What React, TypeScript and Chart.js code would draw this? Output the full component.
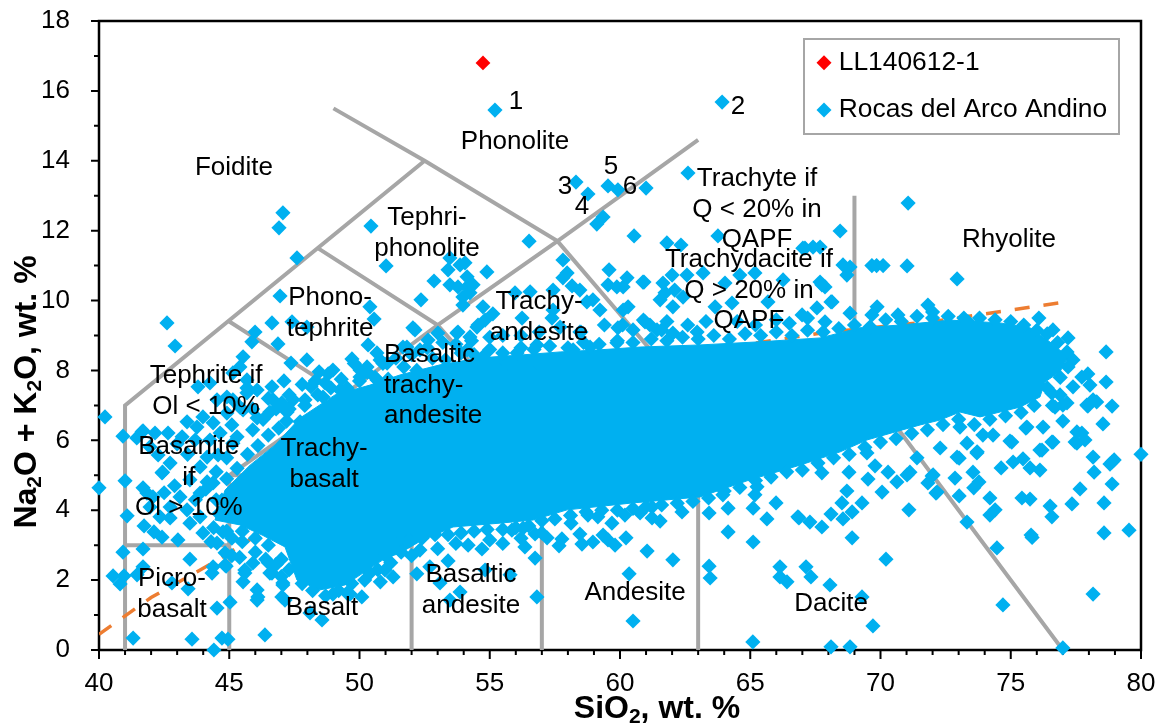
import React, { useEffect, useRef } from "react";
import { Chart, registerables } from "chart.js";

Chart.register(...registerables);

type P = [number, number];

// ---------- data (SiO2 wt.%, Na2O+K2O wt.%) ----------
const sample: P[] = [[54.74, 16.8]];

const rocasHigh: P[] = [
  [55.2,15.45],[63.92,15.68],[58.31,13.39],[58.77,13.05],[59.54,13.28],[59.92,13.17],[61,13.22],[59.35,12.39],[59.11,12.19],
  [60.54,11.85],[56.51,11.7],[61.8,11.65],[57.81,11.16],[57.97,10.79],[57.81,10.65],[59.58,10.88],[60.88,10.53],[54.89,10.82],
  [59.54,10.45],[59.88,10.39],[60.27,10.65],[60.12,10.39],[58.16,10.42],[58.46,10.3],[52.86,10.56],[51.02,10.99],[52.36,10.02],
  [53.47,11.22],[53.4,10.88],[54.05,11.08],[53.86,11.02],[54.13,10.68],[53.47,10.45],[54.13,10.39],[54.36,10.45],[53.97,10.1],
  [53.97,9.87],[54.24,10.22],[53.78,10.39],[54.74,9.82],[55.12,9.62],[56.55,10.25],[55.97,10.22],[57.43,10.3],[58.96,10.02],
  [59.23,9.73],[58.73,9.96],[60.12,9.73],[60.31,9.82],[61.54,10.02],[61.73,10.22],[61.65,10.5],[56.24,9.5],[57.43,9.73],
  [57.39,9.5],[57.7,9.24],[58.46,9.1],[56.81,8.73],[56.05,8.5],[59.92,9.22],[60.5,9.16],[60.96,9.39],[61.42,9.16],[58.2,8.59],
  [58.85,8.67],[59.88,8.79],[52.13,9.16],[53.01,9.07],[52.63,8.87],[53.78,9.1],[54.51,9.24],[54.24,8.96],[54.82,9.44],[51.67,8.67],
  [52.32,8.59],[54.13,8.59],[54.74,8.39],[50.67,8.5],[55.66,8.21],[57.2,8.07],[56.55,8.01],[52.05,9.22],[51.82,8.67],[53.74,9.07],
  [54.55,9.3],
];

const rocasTrachytic: P[] = [
  [62.61,13.65],[68.45,11.99],[62.34,11.59],[63.76,11.85],[67.41,11.53],[67.1,11.5],[67.68,11.53],[64.6,10.73],[65.18,10.79],
  [63.19,10.79],[62.57,10.73],[62,10.73],[60.92,10.53],[66.26,10.59],[67.68,10.53],[67.87,10.39],[68.56,11.02],[68.83,10.96],
  [68.71,10.73],[69.67,11],[69.85,11],[70.1,11],[71.02,10.99],[71.06,12.79],[72.94,10.62],[67.02,11.5],[67.75,10.45],[68.1,9.96],
  [67.56,9.79],[66.99,9.59],[69.87,9.82],[69.67,9.59],[71.82,9.87],[72,9.67],[76.08,9.5],[73.36,9.39],[70.67,9.59],[62.03,9.82],
  [63.65,9.82],[64.3,9.93],[65.68,9.96],[68.14,9.96],[62.96,9.1],[62.03,9.07],[61.6,9.16],[61.15,9.3],[60.9,9.44],[62.1,10.3],
  [62.42,10.1],[68.83,9.64],[67.87,9.39],[64.03,10.5],[77.39,8.3],[77.16,8.53],[77.2,8.93],[76.62,9.16],
];

const rocasMaficUpper: P[] = [
  [47.06,12.51],[46.91,12.08],[47.6,11.22],[50.44,12.13],[46.95,10.13],[42.61,9.36],[42.92,8.7],[50.4,9.82],[50.56,9.47],[46.64,9.36],
  [47.41,9.39],[47.98,9.24],[45.99,9.1],[45.87,8.82],[46.87,8.76],[45.53,8.39],[47.37,8.21],[47.98,8.3],[48.45,7.96],[48.98,8.01],
  [49.71,8.33],[50.33,8.73],[50.02,8.01],[51.06,8.21],[45.41,8.1],[45.14,7.93],[45.68,7.73],[46.64,7.53],[43.8,7.53],[44.26,7.64],
  [45.68,7.5],[46.68,7.16],[47.45,7.16],[48.14,7.53],[48.68,7.64],[49.52,7.5],[44.53,7.16],[44.91,7.24],[45.41,6.95],[43.99,6.67],
  [43.38,6.53],[43.76,6.38],[44.38,6.5],[47.02,7.07],[47.22,6.81],[47.72,6.53],[46.07,6.64],[45.68,7.36],[46.07,7.44],[45.14,7.16],
  [44.91,6.78],[45.53,6.87],[46.56,6.81],[45.1,6.44],[44.26,6.01],[44.65,6.21],[45.14,5.92],[44.15,5.52],[44.57,5.58],[50.79,8.3],
  [50.29,8.1],[50.02,7.81],[49.25,7.44],[48.6,7.24],[47.91,7.16],[50.67,7.73],
];

const rocasMaficLower: P[] = [
  [40.23,6.67],[40.92,6.12],[41.65,6.24],[42.15,6.21],[42.65,6.21],[43.19,6.1],[41.45,6.07],[43.69,6.01],[42.27,5.58],[42.73,5.35],
  [42.42,5.07],[41.96,5.81],[41,4.84],[40,4.64],[41.08,3.84],[41.69,6.27],[41.69,4.64],[41.84,4.49],[42.44,5.09],[41.73,3.55],
  [42.11,3.38],[42.42,3.23],[43.03,3.15],[41.69,2.89],[40.92,2.8],[43.49,2.6],[41.69,2.38],[40.54,2.12],[40.81,1.89],[40.96,2.12],
  [41.46,2.15],[42.8,1.92],[43.42,1.75],[44.53,1.2],[45.03,1.37],[41.31,0.34],[43.57,0.31],[44.72,0.34],[44.95,0.31],[44.41,0],
  [46.37,0.43],[44.34,2.2],[44.38,2.38],[44.88,2.4],[44.84,2.78],[43.99,3.35],[44.53,3.06],[44.76,3.38],[42.73,3.78],[43.49,3.63],
  [43.11,4.38],[43.88,3.81],[43.88,5.24],[43.49,4.87],[44.15,4.81],[42.07,4.38],[42.73,4.09],[43.38,4.01],[41.96,4.09],[43.88,4.49],
  [44.38,4.78],[44.72,4.29],[42.34,3.81],[45.53,1.95],[46.1,1.52],[45.91,2.49],[46.64,2.2],[45.6,2.29],[46.07,1.72],[47.06,1.86],
  [47.14,1.43],[48.98,1.6],[48.56,0.86],[50.09,1.52],[49.52,1.63],[48.1,1.06],[51.29,2.09],[50.98,2.29],[50.4,2.2],[46.56,2.2],
  [47.06,1.92],[46.07,1.43],[45.6,2.2],[49.64,1.6],[47.02,1.52],[44.84,2.43],
];

const rocasIntermediateLower: P[] = [
  [52.2,2.18],[53.4,2.55],[54.17,3],[54.7,2.89],[53.86,1.66],[53.47,1.43],[54.82,2.29],[55.78,2.15],[53.09,1.92],[52.7,2.38],[52.32,2.86],
  [56.35,2.95],[56.74,2.63],[56.81,1.52],[56.74,3.32],[57.2,3.21],[57,3.35],[57.66,2.98],[57.77,3.18],[58.54,3.03],[58.46,3.32],
  [58.96,3.09],[59.35,3.29],[59.54,3.15],[59.81,3],[60.23,3.21],[61.04,2.83],[62.03,2.58],[60.35,2.18],[60.5,0.83],[58.12,3.63],
  [59.69,3.63],[58.77,3.86],[59.15,3.81],[60.77,3.92],[61.23,4.09],[61.23,3.78],[61.54,3.69],[60.19,3.86],[62.38,3.95],[56.28,3.49],
  [55.85,3.43],[63.42,3.92],[64.15,4.06],[64.15,3.38],[63.42,2.4],[63.46,2.06],[65.11,3.09],[65.11,4.06],[65.64,3.75],[65.99,4.21],
  [65.18,4.44],[65.26,4.67],[65.1,0.23],[66.14,2.38],[66.14,2.09],[66.41,1.95],[63.95,4.44],[66.83,3.81],
];

const rocasFelsicLower: P[] = [
  [66.87,3.78],[67.29,3.66],[67.75,3.52],[68.1,3.89],[68.52,4.21],[68.56,3.75],[68.91,3.95],[69.29,4.21],[68.91,3.21],[70.21,2.6],
  [71.09,4.01],[69.71,0.69],[69.29,1.52],[68.06,1.86],[67.14,2.38],[67.33,2.09],[68.1,0.09],[68.83,0.09],[77,0.06],[74.7,1.29],
  [78.16,1.6],[73.32,3.66],[74.47,2.92],[80,5.6],[79.54,3.43],[78.58,3.35],[75.78,3.29],[75.82,3.22],[68.71,4.55],[67.75,5.07],
  [68.79,5.09],[69.79,5.27],[69.52,4.89],[70.06,4.52],[70.29,5.09],[70.63,4.81],[71.02,5.01],[71.13,5.09],[71.82,4.78],[72.02,5.01],
  [72.13,4.49],[71.4,5.5],[72.86,4.92],[73.02,4.41],[73.55,5.09],[73.78,4.81],[73.58,4.64],[74.2,4.35],[74.4,4.01],[74.2,3.86],
  [74.63,5.21],[75.09,5.38],[75.47,5.47],[75.74,5.21],[76.12,5.15],[75.43,4.35],[75.74,4.32],[76.51,4.12],[76.58,3.81],[77.35,4.18],
  [77.66,4.61],[78.2,5.09],[78.58,4.21],[78.89,4.75],[78.81,5.32],[78.97,5.44],[78.16,5.52],[77.47,5.95],[77.73,6.21],[77.85,6.01],
  [77,6.55],[78.54,6.47],[78.89,6.98],[77.92,7.01],[78.3,7.1],[77,7.01],[76.62,5.95],[76.12,5.72],[76.24,6.38],[75.62,6.38],[75.04,5.95],
  [74.32,6.15],[73.71,5.67],[72.94,5.52],[72.29,5.78],[73.05,6.38],[73.93,6.15],[73.32,5.92],[78.66,8.53],[78.66,7.67],[77.96,7.9],
  [77.73,7.81],[77.39,7.53],[78.04,7.58],[78.16,7.16],[77.96,6.98],[77.54,6.24],[77.54,5.92],[78.89,5.38],[72.17,4.52],[71.98,4.98],
  [69.48,5.64],[73.02,5.49],[73.7,5.64],[76.58,5.95],[76.2,5.72],[74.97,5.98],[75.58,6.35],[76.7,6.95],[76.89,7.3],[77.16,7.07],[76.58,7.35],
];

const rocasMassTop: P[] = [
  [47.3,6.9],[47.9,7],[48.4,7.3],[48.9,7.5],[49.5,7.45],[50,7.7],[50.6,7.8],[51.1,7.75],[51.7,8.1],[52.2,8],[52.8,8.35],[53.3,8.3],
  [53.9,8.5],[54.4,8.45],[55,8.6],[55.5,8.5],[56.2,8.65],[56.7,8.6],[57.3,8.7],[58,8.65],[58.6,8.8],[59.2,8.75],[59.9,8.85],[60.5,8.8],
  [61.2,8.9],[61.8,8.85],[62.4,8.95],[63,8.9],[63.6,9],[64.2,8.9],[64.8,9.05],[65.4,9],[66,9.1],[66.6,9],[67.2,9.15],[67.8,9.1],
  [68.4,9.2],[69,9.3],[69.6,9.25],[70.2,9.45],[70.8,9.4],[71.4,9.55],[72,9.5],[72.6,9.55],[73.2,9.5],[73.8,9.5],[74.4,9.45],[75,9.4],
  [75.5,9.3],[76,9.15],[76.4,9.05],[76.8,8.8],
];
const rocasMassBottom: P[] = [
  [45.5,3.4],[46,3.2],[46.5,3],[47,2.6],[47.3,2.3],[47.8,1.9],[48.2,1.7],[48.7,1.55],[49.2,1.7],[49.7,1.9],[50.2,2],[50.7,2.3],[51,2.7],
  [51.4,3],[51.9,3.15],[52.4,3.2],[52.9,3.3],[53.4,3.3],[53.9,3.35],[54.4,3.4],[54.9,3.45],[55.5,3.45],[56,3.5],[56.5,3.55],[57,3.7],
  [57.5,3.75],[58.1,3.85],[58.7,3.95],[59.3,4],[59.9,4],[60.5,4.05],[61,4.1],[61.6,4.15],[62.2,4.2],[62.8,4.25],[63.4,4.35],[64,4.55],
  [64.6,4.65],[65.2,4.85],[65.8,4.95],[66.4,5.1],[67,5.15],[67.6,5.35],[68.2,5.5],[68.8,5.6],[69.4,5.8],[70,5.95],[70.6,6.05],[71.2,6.2],
  [71.8,6.3],[72.4,6.45],[73,6.6],[73.6,6.45],[74.2,6.6],[74.8,6.7],[75.4,6.8],[75.9,7],[76.4,7.5],[76.9,7.8],[77.2,8.1],[76.6,7],
];
const rocasMassLeft: P[] = [
  [44.6,3.9],[44.5,4.3],[44.9,4.9],[45.3,5.2],[45.7,5.6],[46.1,5.85],[46.5,6.15],[46.9,6.35],[47.2,6.55],[44.4,3.5],[44.9,3.4],[45.1,3.2],
  [45.5,3.1],[46,2.8],[46.4,2.6],[46.8,2.45],
];
const rocasOuterFringe: P[] = [
  [45.3,6.1],[45.9,6.3],[46.3,6.6],[46.8,6.9],[47.3,7.3],[47.8,7.6],[48.3,7.7],[48.8,7.9],[49.3,7.75],[49.8,8.2],[50.3,7.95],[50.9,8.2],
  [51.4,8.35],[52,8.45],[52.6,8.65],[53.2,8.8],[53.7,8.75],[54.3,8.85],[55,8.95],[55.5,9],[56.2,9],[56.9,9.1],[47.1,7.7],[46.5,7.2],
  [45.9,6.9],[44.9,5.5],[44.5,5.1],[44.1,4.6],[43.7,4.3],[43.4,5.6],[43,5.9],[42.9,4.7],[42.5,4.5],[44.3,3.1],[45.1,2.7],[45.4,2.65],
  [51.6,2.8],[52,2.7],[51.2,2.5],[50.8,1.95],[47,2.1],[46.5,2.5],[58.5,9.1],[59.4,9.3],[60.1,9.3],[61.8,9.4],[62.6,9.3],[63.3,9.4],
  [64.5,9.4],[65.2,9.3],[66,9.45],[66.5,9.35],[67.2,9.5],[53,2.9],[53.7,3.05],[55,3.15],[55.5,3.05],[56.2,3.2],
];

// Outline of the part of the cloud where individual markers merge into one solid area.
const rocasSolidMass: P[] = [
  [44.45,3.72],[44.84,4.58],[45.8,5.29],[46.76,5.87],[47.72,6.64],[49.06,7.3],[50.4,7.58],[51.55,7.87],[53.09,8.16],[54.63,8.36],
  [56.16,8.44],[57.7,8.53],[59.23,8.59],[60.77,8.67],[63.07,8.73],[65.37,8.82],[67.68,8.93],[69.21,9.22],[70.75,9.3],[72.67,9.44],
  [74.59,9.36],[75.74,9.22],[76.31,8.93],[77.2,8.39],[76.89,7.96],[76.31,7.67],[76.12,7.24],[75.35,6.95],[74.59,6.81],[73.82,6.67],
  [73.05,6.81],[72.28,6.58],[71.52,6.44],[70.56,6.24],[69.48,6.01],[68.45,5.67],[66.91,5.29],[64.99,4.87],[63.07,4.38],[60.5,4.21],
  [57.97,4.01],[56.66,3.72],[55.39,3.63],[53.59,3.52],[52.3,3.1],[51.55,2.77],[51,2.63],[50.13,2.2],[49.44,1.86],[48.48,1.72],
  [47.6,2],[47.14,2.95],[46.26,3.29],[45.41,3.58],[44.45,3.72],
];

// TAS field boundaries
const fieldBoundaries: P[][] = [
  [[41,0],[41,7],[52.5,14]],
  [[41,3],[45,3]],
  [[45,0],[45,5],[49.4,7.3],[53,9.3],[57.6,11.7],[63,14.6]],
  [[45,9.4],[49.4,7.3],[52,5],[52,0]],
  [[48.4,11.5],[53,9.3],[57,5.9],[57,0]],
  [[49,15.5],[52.5,14],[57.6,11.7],[63,7],[63,0]],
  [[45,5],[52,5],[57,5.9],[63,7],[69,8],[77,0]],
  [[69,8],[69,13]],
];
const alkalineDivide: P[] = [
  [40,0.45],[42,1.5],[44.5,2.55],[48,4.2],[52,5.8],[56,6.9],[60,7.8],[64,8.65],[68,9.1],[72,9.4],[77.1,9.96],
];

const fieldNames: string[][] = [
  ["Foidite"],["Phonolite"],["Tephri-","phonolite"],["Phono-","tephrite"],["Tephrite if","Ol < 10%"],["Basanite","if","Ol > 10%"],
  ["Trachy-","basalt"],["Trachy-","andesite"],["Trachyte if","Q < 20% in","QAPF"],["Trachydacite if","Q > 20% in","QAPF"],["Rhyolite"],
  ["Picro-","basalt"],["Basalt"],["Basaltic","andesite"],["Andesite"],["Dacite"],["1"],["2"],["3"],["4"],["5"],["6"],
];
const fieldAnchors: P[] = [
  [45.18,13.8],[55.97,14.54],[52.59,12.36],[48.87,10.07],[44.11,7.84],[43.45,5.81],[48.64,5.75],[56.89,9.96],[65.26,13.48],[64.95,11.16],[74.93,11.73],
  [42.8,2.03],[48.56,1.2],[54.28,2.15],[60.58,1.63],[68.1,1.32],[56.01,15.68],[64.53,15.54],[57.89,13.25],[58.54,12.68],[59.65,13.82],[60.38,13.25],
];
const leftAlignedName = ["Basaltic", "trachy-", "andesite"];
const leftAlignedAnchor: P = [50.94, 8.44];

const xTitleParts = ["SiO", "2", ", wt. %"];
const yTitleParts = ["Na", "2", "O + K", "2", "O, wt. %"];

const BLUE = "#00B0F0";
const GREY = "#A6A6A6";
const FONT = '"Liberation Sans", Arial, sans-serif';

const toXY = (pts: P[]) => pts.map(([x, y]) => ({ x, y }));

function richTitle(ctx: CanvasRenderingContext2D, parts: string[], cx: number, cy: number, rot: number) {
  const big = `bold 32px ${FONT}`;
  const small = `bold 21px ${FONT}`;
  const isSub = (p: string) => p === "2";
  let total = 0;
  parts.forEach((p) => { ctx.font = isSub(p) ? small : big; total += ctx.measureText(p).width; });
  ctx.save();
  ctx.translate(cx, cy);
  ctx.rotate(rot);
  ctx.fillStyle = "#000";
  ctx.textAlign = "left";
  ctx.textBaseline = "alphabetic";
  let x = -total / 2;
  parts.forEach((p) => {
    ctx.font = isSub(p) ? small : big;
    ctx.fillText(p, x, isSub(p) ? 16 : 11);
    x += ctx.measureText(p).width;
  });
  ctx.restore();
}

const tasPlugin = {
  id: "tasDecor",
  beforeDraw(chart: any) {
    const { ctx } = chart;
    ctx.save();
    ctx.fillStyle = "#fff";
    ctx.strokeStyle = GREY;
    ctx.lineWidth = 2;
    ctx.fillRect(804, 39, 315, 95);
    ctx.strokeRect(804, 39, 315, 95);
    ctx.restore();
  },
  afterLayout(chart: any) {
    const l = chart.legend;
    if (l) { l.left = 801.5; l.top = 28.5; l.right = 1119; l.bottom = 300; }
  },
  beforeDatasetsDraw(chart: any) {
    const { ctx, chartArea: a, scales } = chart;
    ctx.save();
    ctx.strokeStyle = "#000";
    ctx.lineWidth = 2.5;
    ctx.strokeRect(a.left, a.top, a.right - a.left, a.bottom - a.top);
    ctx.lineWidth = 2;
    ctx.beginPath();
    scales.x.ticks.forEach((t: any) => {
      const px = scales.x.getPixelForValue(t.value);
      ctx.moveTo(px, a.bottom);
      ctx.lineTo(px, a.bottom + (t.value % 5 === 0 ? 9 : 5));
    });
    scales.y.ticks.forEach((t: any) => {
      const py = scales.y.getPixelForValue(t.value);
      ctx.moveTo(a.left, py);
      ctx.lineTo(a.left - (t.value % 2 === 0 ? 8 : 5), py);
    });
    ctx.stroke();
    ctx.restore();
  },
  afterDatasetsDraw(chart: any) {
    const { ctx, scales } = chart;
    ctx.save();
    ctx.fillStyle = "#000";
    ctx.font = `26px ${FONT}`;
    ctx.textBaseline = "middle";
    ctx.textAlign = "center";
    fieldNames.forEach((lines, i) => {
      const [vx, vy] = fieldAnchors[i];
      const px = scales.x.getPixelForValue(vx);
      const py = scales.y.getPixelForValue(vy);
      lines.forEach((ln, j) => ctx.fillText(ln, px, py + j * 30.5));
    });
    ctx.textAlign = "left";
    leftAlignedName.forEach((ln, j) =>
      ctx.fillText(ln, scales.x.getPixelForValue(leftAlignedAnchor[0]), scales.y.getPixelForValue(leftAlignedAnchor[1]) + j * 30.5)
    );
    ctx.restore();
    richTitle(ctx, xTitleParts, 657, 707, 0);
    richTitle(ctx, yTitleParts, 25, 392, -Math.PI / 2);
  },
};

export default function App() {
  const ref = useRef<HTMLCanvasElement>(null);
  useEffect(() => {
    const rocas = [
      ...rocasHigh, ...rocasTrachytic, ...rocasMaficUpper, ...rocasMaficLower,
      ...rocasIntermediateLower, ...rocasFelsicLower, ...rocasMassTop, ...rocasMassBottom, ...rocasMassLeft, ...rocasOuterFringe,
    ];
    const greyLines = fieldBoundaries.map((seg, i) => ({
      label: `boundary ${i + 1}`,
      data: toXY(seg),
      showLine: true,
      borderColor: GREY,
      borderWidth: 4,
      pointRadius: 0,
      fill: false,
      order: 5,
    }));
    const chart = new Chart(ref.current!, {
      type: "scatter",
      data: {
        datasets: [
          {
            label: "LL140612-1",
            data: toXY(sample),
            pointStyle: "rectRot",
            pointRadius: 7.4,
            backgroundColor: "#FF0000",
            borderColor: "#FF0000",
            borderWidth: 0,
            order: 0,
            clip: false,
          },
          {
            label: "Rocas del Arco Andino",
            data: toXY(rocas),
            pointStyle: "rectRot",
            pointRadius: 7.6,
            backgroundColor: BLUE,
            borderColor: BLUE,
            borderWidth: 0,
            order: 1,
            clip: false,
          },
          {
            label: "rocas solid mass",
            data: toXY(rocasSolidMass),
            showLine: true,
            fill: "shape",
            backgroundColor: BLUE,
            borderColor: BLUE,
            borderWidth: 1,
            pointRadius: 0,
            tension: 0,
            order: 2,
          },
          {
            label: "alkaline divide",
            data: toXY(alkalineDivide),
            showLine: true,
            borderColor: "#ED7D31",
            borderWidth: 3.5,
            borderDash: [15, 14],
            pointRadius: 0,
            fill: false,
            order: 3,
          },
          ...greyLines,
        ] as any,
      },
      options: {
        animation: false,
        responsive: false,
        layout: { padding: { top: 21, right: 23, left: 0, bottom: 0 } },
        plugins: {
          tooltip: { enabled: false },
          title: { display: false },
          legend: {
            display: true,
            fullSize: false,
            position: "chartArea" as any,
            align: "start",
            labels: {
              filter: (it: any) => it.text === "LL140612-1" || it.text === "Rocas del Arco Andino",
              usePointStyle: true,
              pointStyle: "rectRot",
              boxWidth: 3,
              boxHeight: 10.6,
              padding: 21,
              color: "#000",
              font: { size: 26.4, family: FONT, lineHeight: 1 },
            },
          },
        },
        scales: {
          x: {
            type: "linear",
            min: 40,
            max: 80,
            grid: { display: false },
            border: { display: false },
            afterFit: (s: any) => { s.height = 75; s.paddingLeft = 0; s.paddingRight = 0; },
            ticks: {
              stepSize: 1,
              autoSkip: false,
              maxRotation: 0,
              padding: 10,
              color: "#000",
              font: { size: 26, family: FONT },
              callback: (v: any) => (Number(v) % 5 === 0 ? String(v) : ""),
            },
          },
          y: {
            type: "linear",
            min: 0,
            max: 18,
            grid: { display: false },
            border: { display: false },
            afterFit: (s: any) => { s.width = 99; s.paddingTop = 0; s.paddingBottom = 0; },
            ticks: {
              stepSize: 1,
              autoSkip: false,
              padding: 21,
              color: "#000",
              font: { size: 26, family: FONT },
              callback: (v: any) => (Number(v) % 2 === 0 ? String(v) : ""),
            },
          },
        },
      },
      plugins: [tasPlugin as any],
    });
    return () => chart.destroy();
  }, []);
  return (
    <canvas
      ref={ref}
      width={1164}
      height={725}
      style={{ position: "fixed", left: 0, top: 0, display: "block", width: 1164, height: 725 }}
    />
  );
}
